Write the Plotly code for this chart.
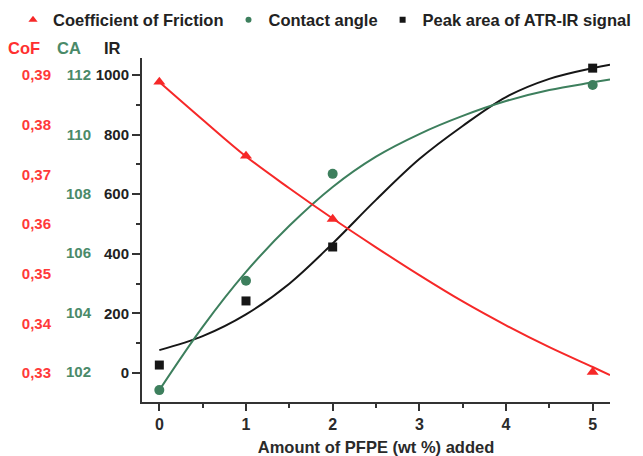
import plotly.graph_objects as go

# ---- data ----
pfpe = [0, 1, 2, 5]
cof = [0.3886, 0.3737, 0.3610, 0.3302]
ca = [101.39, 105.07, 108.67, 111.66]
ir = [27, 242, 423, 1023]

# fitted curves
fit_x = [0, 0.5, 1, 1.5, 2, 2.5, 3, 3.5, 4, 4.5, 5, 5.2]
cof_fit = [0.3886, 0.3810, 0.3736, 0.3672, 0.3611, 0.3553, 0.3497, 0.3444, 0.3396, 0.3352, 0.3312, 0.3296]
ca_fit = [101.39, 103.52, 105.37, 106.92, 108.23, 109.25, 110.01, 110.62, 111.12, 111.49, 111.75, 111.85]
ir_fit = [77, 124, 197, 300, 435, 581, 718, 829, 926, 987, 1023, 1034]

x_ticks = [0, 1, 2, 3, 4, 5]
ir_ticks = [0, 200, 400, 600, 800, 1000]
ca_ticks = [102, 104, 106, 108, 110, 112]
cof_ticks = [0.33, 0.34, 0.35, 0.36, 0.37, 0.38, 0.39]
cof_labels = ["0,33", "0,34", "0,35", "0,36", "0,37", "0,38", "0,39"]

RED = "#f62828"
GREEN = "#3d7f5d"
BLACK = "#161616"
FONT = "Liberation Sans, Arial, sans-serif"

fig = go.Figure()

# curves
fig.add_trace(go.Scatter(x=fit_x, y=ca_fit, mode="lines", line=dict(color=GREEN, width=2, shape="spline"),
                         yaxis="y2", showlegend=False, hoverinfo="skip"))
fig.add_trace(go.Scatter(x=fit_x, y=ir_fit, mode="lines", line=dict(color=BLACK, width=2, shape="spline"),
                         yaxis="y", showlegend=False, hoverinfo="skip"))
fig.add_trace(go.Scatter(x=fit_x, y=cof_fit, mode="lines", line=dict(color=RED, width=2, shape="spline"),
                         yaxis="y3", showlegend=False, hoverinfo="skip"))

# markers
fig.add_trace(go.Scatter(x=pfpe, y=ca, mode="markers", marker=dict(color=GREEN, size=10, symbol="circle"),
                         yaxis="y2", showlegend=False))
fig.add_trace(go.Scatter(x=pfpe, y=ir, mode="markers", marker=dict(color=BLACK, size=9, symbol="square"),
                         yaxis="y", showlegend=False))
fig.add_trace(go.Scatter(x=pfpe, y=cof, mode="markers", marker=dict(color=RED, size=10.5, symbol="triangle-up"),
                         yaxis="y3", showlegend=False))

# legend entries
fig.add_trace(go.Scatter(x=[None], y=[None], mode="markers", name="Coefficient of Friction",
                         marker=dict(color=RED, size=8, symbol="triangle-up"), yaxis="y3"))
fig.add_trace(go.Scatter(x=[None], y=[None], mode="markers", name="Contact angle",
                         marker=dict(color=GREEN, size=6, symbol="circle"), yaxis="y2"))
fig.add_trace(go.Scatter(x=[None], y=[None], mode="markers", name="Peak area of ATR-IR signal",
                         marker=dict(color=BLACK, size=6, symbol="square"), yaxis="y"))

W, H = 643, 456
ml, mr, mt, mb = 10, 0, 58, 54
pw = W - ml - mr
ph = H - mt - mb


def px_x(p):
    return (p - ml) / pw


def px_y(p):
    return (H - mb - p) / ph


fig.update_layout(
    width=W, height=H,
    margin=dict(l=ml, r=mr, t=mt, b=mb, autoexpand=False),
    paper_bgcolor="white", plot_bgcolor="white",
    font=dict(family=FONT, size=16, color=BLACK),
    showlegend=True,
    legend=dict(orientation="h", x=px_x(13), xanchor="left", y=px_y(20), yanchor="middle",
                font=dict(family=FONT, size=16.5, weight="bold", color="#222222"),
                bgcolor="rgba(0,0,0,0)", itemsizing="trace", tracegroupgap=0),
    xaxis=dict(domain=[px_x(142), px_x(610)], range=[-0.2, 5.2], tickvals=x_ticks,
               showline=True, linecolor="#333333", linewidth=2, ticks="outside", ticklen=7,
               tickwidth=2, tickcolor="#333333", showgrid=False, zeroline=False,
               minor=dict(ticks="outside", ticklen=4, tickwidth=2, tickcolor="#333333", dtick=0.5, showgrid=False),
               tickfont=dict(family=FONT, size=16, weight="bold", color="#2a2a2a"),
               title=dict(text="Amount of PFPE (wt %) added", standoff=18,
                          font=dict(family=FONT, size=16.5, weight="bold", color="#2a2a2a"))),
    yaxis=dict(range=[-97, 1057], tickvals=ir_ticks, showline=True, linecolor="#333333", linewidth=2,
               ticks="outside", ticklen=8, tickwidth=2, tickcolor="#333333", showgrid=False, zeroline=False,
               minor=dict(ticks="outside", ticklen=4, tickwidth=2, tickcolor="#333333", dtick=100, showgrid=False),
               tickfont=dict(family=FONT, size=15, weight="bold", color="#222222")),
    yaxis2=dict(range=[100.99, 112.57], tickvals=ca_ticks, overlaying="y", anchor="free", side="left",
                position=px_x(91), showline=False, ticks="", showgrid=False, zeroline=False,
                tickfont=dict(family=FONT, size=15, weight="bold", color="#4a8a69")),
    yaxis3=dict(range=[0.32416, 0.39342], tickvals=cof_ticks, ticktext=cof_labels, overlaying="y",
                anchor="free", side="left", position=px_x(51), showline=False, ticks="", showgrid=False,
                zeroline=False, tickfont=dict(family=FONT, size=15, weight="bold", color="#ff3a3a")),
    annotations=[
        dict(text="CoF", x=px_x(24), y=px_y(48), xref="paper", yref="paper", showarrow=False,
             font=dict(family=FONT, size=16.5, weight="bold", color="#ff3030"), xanchor="center", yanchor="middle"),
        dict(text="CA", x=px_x(69), y=px_y(48), xref="paper", yref="paper", showarrow=False,
             font=dict(family=FONT, size=16.5, weight="bold", color="#4a8a69"), xanchor="center", yanchor="middle"),
        dict(text="IR", x=px_x(112), y=px_y(48), xref="paper", yref="paper", showarrow=False,
             font=dict(family=FONT, size=16.5, weight="bold", color="#222222"), xanchor="center", yanchor="middle"),
    ],
)

fig.write_html("out.html", config={"displayModeBar": False},
               post_script="document.body.style.margin='0';")
